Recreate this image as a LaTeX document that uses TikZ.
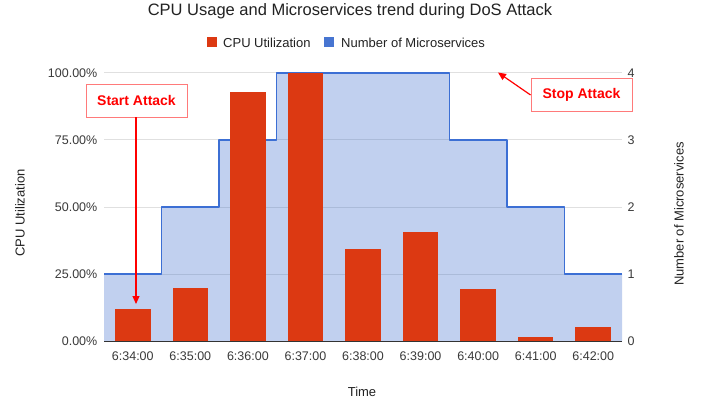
\documentclass[tikz,border=0pt]{standalone}
\usepackage{fontspec}
\setmainfont{Liberation Sans}
\usetikzlibrary{arrows.meta}
\definecolor{barred}{HTML}{DC3912}
\definecolor{lineblue}{HTML}{3C6FD4}
\definecolor{areablue}{HTML}{3366CC}
\definecolor{gridgray}{HTML}{E0E0E0}
\definecolor{axisdark}{HTML}{333333}
\definecolor{ticktext}{HTML}{3A3A3A}
\definecolor{titletext}{HTML}{222222}
\definecolor{annored}{HTML}{FF0000}
\definecolor{annoborder}{HTML}{FF7A7A}
\tikzset{
  ticklabel/.style={font=\fontsize{12.5}{14}\selectfont, text=ticktext, inner sep=0pt},
  axistitle/.style={font=\fontsize{13}{15}\selectfont, text=titletext, inner sep=0pt},
  legendtext/.style={font=\fontsize{13}{15}\selectfont, text=titletext, inner sep=0pt, anchor=west},
  annobox/.style={draw=annoborder, fill=white, line width=0.9pt, text=annored,
    font=\bfseries\fontsize{14}{16}\selectfont, minimum width=101, minimum height=33, inner sep=0pt},
  annoarrow/.style={draw=annored, line width=1.2pt, -{Triangle[length=8pt,width=7pt]}},
  gridline/.style={draw=gridgray, line width=1pt},
}
\begin{document}
\begin{tikzpicture}[x=1pt,y=-1pt]
\useasboundingbox (0,0) rectangle (708,403);
\fill[white] (0,0) rectangle (708,403);

% title and legend
\node[font=\fontsize{16.5}{19}\selectfont, text=titletext, inner sep=0pt] (title) at (350,11.5) {CPU Usage and Microservices trend during DoS Attack};
\fill[barred] (207,37.5) rectangle (217,47.5);
\node[legendtext] (legcpu) at (223,42.5) {CPU Utilization};
\fill[areablue!90!white] (324,37.5) rectangle (334,47.5);
\node[legendtext] (legms) at (341,42.5) {Number of Microservices};

% horizontal grid lines
\foreach \gy in {73,140,207,274}
  \draw[gridline] (104,\gy) -- (622,\gy);

% stepped area for number of microservices
\fill[areablue, fill opacity=0.3]
  (104,341) -- (104,274) -- (161.56,274) -- (161.56,207) -- (219.11,207) -- (219.11,140)
  -- (276.67,140) -- (276.67,73) -- (449.33,73) -- (449.33,140) -- (506.89,140)
  -- (506.89,207) -- (564.44,207) -- (564.44,274) -- (622,274) -- (622,341) -- cycle;
\draw[lineblue, line width=1.6pt, line join=round]
  (104,274) -- (161.56,274) -- (161.56,207) -- (219.11,207) -- (219.11,140)
  -- (276.67,140) -- (276.67,73) -- (449.33,73) -- (449.33,140) -- (506.89,140)
  -- (506.89,207) -- (564.44,207) -- (564.44,274) -- (622,274);

% CPU utilization bars and time labels
\foreach \v/\lab [count=\i from 0] in {11.9/6:34:00,19.9/6:35:00,92.8/6:36:00,100/6:37:00,34.3/6:38:00,40.5/6:39:00,19.4/6:40:00,1.6/6:41:00,5.1/6:42:00} {
  \pgfmathsetmacro\cx{104+(\i+0.5)*57.556}
  \pgfmathsetmacro\ytop{341-2.68*\v}
  \fill[barred] (\cx-17.75,341) rectangle (\cx+17.75,\ytop);
  \node[ticklabel] (t\i) at (\cx,356) {\lab};
}

% baseline
\draw[axisdark, line width=1pt] (104,341) -- (622,341);

% left axis
\foreach \gy/\lab in {73/100.00\%,140/75.00\%,207/50.00\%,274/25.00\%,341/0.00\%}
  \node[ticklabel, anchor=east] at (97.5,\gy) {\lab};
\node[axistitle, rotate=90] (ytitle) at (20,213) {CPU Utilization};

% right axis
\foreach \gy/\lab in {73/4,140/3,207/2,274/1,341/0}
  \node[ticklabel, anchor=west] at (627.5,\gy) {\lab};
\node[axistitle, rotate=90] (y2title) at (679,214) {Number of Microservices};

% x axis title
\node[axistitle] (xtitle) at (362,392) {Time};

% annotations
\node[annobox] (start) at (136.5,100.5) {Start Attack};
\coordinate (starttip) at (136,304);
\draw[annoarrow] (start.south -| starttip) -- (starttip);

\node[annobox] (stop) at (581.5,95) {Stop Attack};
\coordinate (stoptip) at (498,72.5);
\draw[annoarrow] (stop.west) -- (stoptip);
\end{tikzpicture}
\end{document}
